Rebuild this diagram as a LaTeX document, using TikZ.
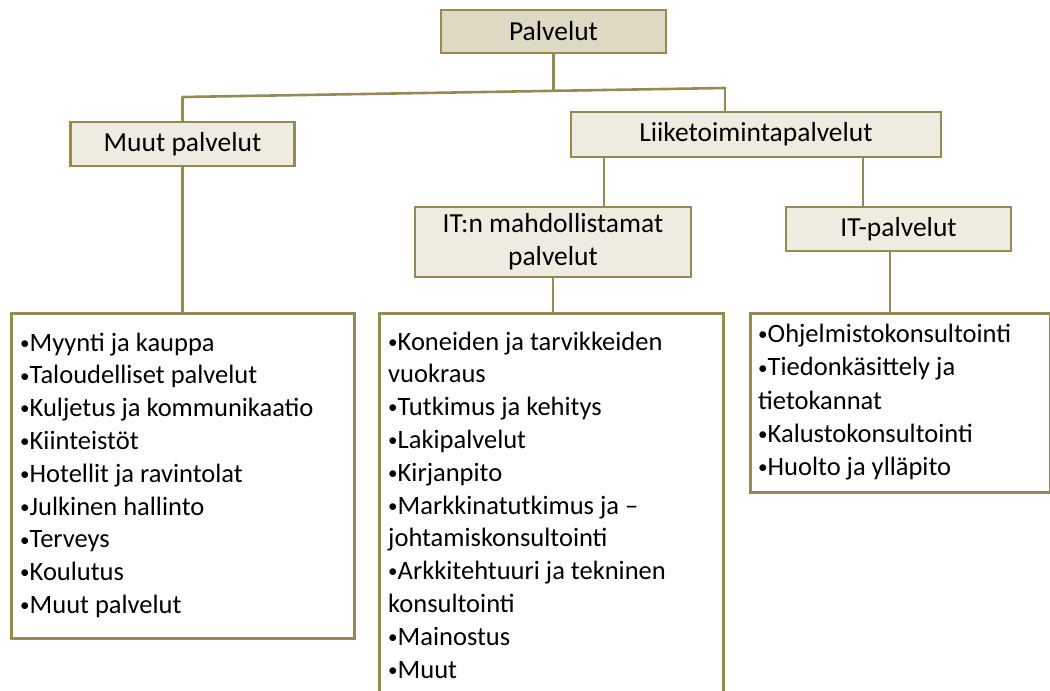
\documentclass[tikz,border=0pt]{standalone}
\usepackage{fontspec}
\setmainfont{Carlito}
\definecolor{bordercol}{HTML}{948A54}
\definecolor{topfill}{HTML}{DDD9C3}
\definecolor{hdrfill}{HTML}{EEECE1}
\newcommand\bul{\raisebox{1.8pt}{\scalebox{0.72}{•}}}
\begin{document}
\begin{tikzpicture}[x=1pt,y=-1pt,
  hdr/.style={draw=bordercol, line width=2.8pt, fill=hdrfill, inner sep=0pt,
    font=\fontsize{27.5pt}{33pt}\selectfont},
  listbox/.style={draw=bordercol, line width=2.8pt, fill=white, inner sep=0pt, anchor=north west},
  listtext/.style={anchor=north west, inner sep=0pt, align=left,
    font=\fontsize{26.5pt}{32.8pt}\selectfont},
  conn/.style={draw=bordercol, line width=2.6pt}]
\useasboundingbox (0,0) rectangle (1050,691);
\clip (0,0) rectangle (1050,691);
% header nodes
\node[hdr, fill=topfill, minimum width=225pt, minimum height=43pt] (pal) at (553.5,31.5) {Palvelut};
\node[hdr, minimum width=224pt, minimum height=44pt] (muut) at (182.5,144) {Muut palvelut};
\node[hdr, minimum width=370pt, minimum height=45pt] (liike) at (756,134.5) {Liiketoimintapalvelut};
\node[hdr, minimum width=276pt, minimum height=70pt, align=center] (itn) at (553,242) {IT:n mahdollistamat\\palvelut};
\node[hdr, minimum width=225pt, minimum height=44pt] (itp) at (898.5,229) {IT-palvelut};
% list boxes
\node[listbox, minimum width=343pt, minimum height=325pt] (lbox) at (10,312) {};
\node[listbox, minimum width=344pt, minimum height=420pt] (mbox) at (378,312) {};
\node[listbox, minimum width=300pt, minimum height=179pt] (rbox) at (749,312) {};
% list texts
\node[listtext] (ltext) at (20,328) {\strut\bul Myynti ja kauppa\\\bul Taloudelliset palvelut\\\bul Kuljetus ja kommunikaatio\\\bul Kiinteistöt\\\bul Hotellit ja ravintolat\\\bul Julkinen hallinto\\\bul Terveys\\\bul Koulutus\\\bul Muut palvelut};
\node[listtext] (mtext) at (388,327) {\strut\bul Koneiden ja tarvikkeiden\\vuokraus\\\bul Tutkimus ja kehitys\\\bul Lakipalvelut\\\bul Kirjanpito\\\bul Markkinatutkimus ja –\\johtamiskonsultointi\\\bul Arkkitehtuuri ja tekninen\\konsultointi\\\bul Mainostus\\\bul Muut};
\node[listtext, font=\fontsize{26.5pt}{33.3pt}\selectfont] (rtext) at (758,319) {\strut\bul Ohjelmistokonsultointi\\\bul Tiedonkäsittely ja\\tietokannat\\\bul Kalustokonsultointi\\\bul Huolto ja ylläpito};
% connectors
\coordinate (jL) at (182.5,97);
\coordinate (jR) at (725,88);
\coordinate (jM) at (553.5,90.8);
\coordinate (a1) at (604,0);
\coordinate (a2) at (863,0);
\coordinate (a3) at (890,0);
\draw[conn] (pal.south) -- (jM);
\draw[conn, line cap=round] (jL) -- (jR);
\draw[conn] (jL) -- (muut.north);
\draw[conn] (jR) -- (jR |- liike.north);
\draw[conn] (liike.south -| a1) -- (itn.north -| a1);
\draw[conn] (liike.south -| a2) -- (itp.north -| a2);
\draw[conn] (muut.south) -- (muut.south |- lbox.north);
\draw[conn] (itn.south) -- (itn.south |- mbox.north);
\draw[conn] (itp.south -| a3) -- (rbox.north -| a3);
\end{tikzpicture}
\end{document}
